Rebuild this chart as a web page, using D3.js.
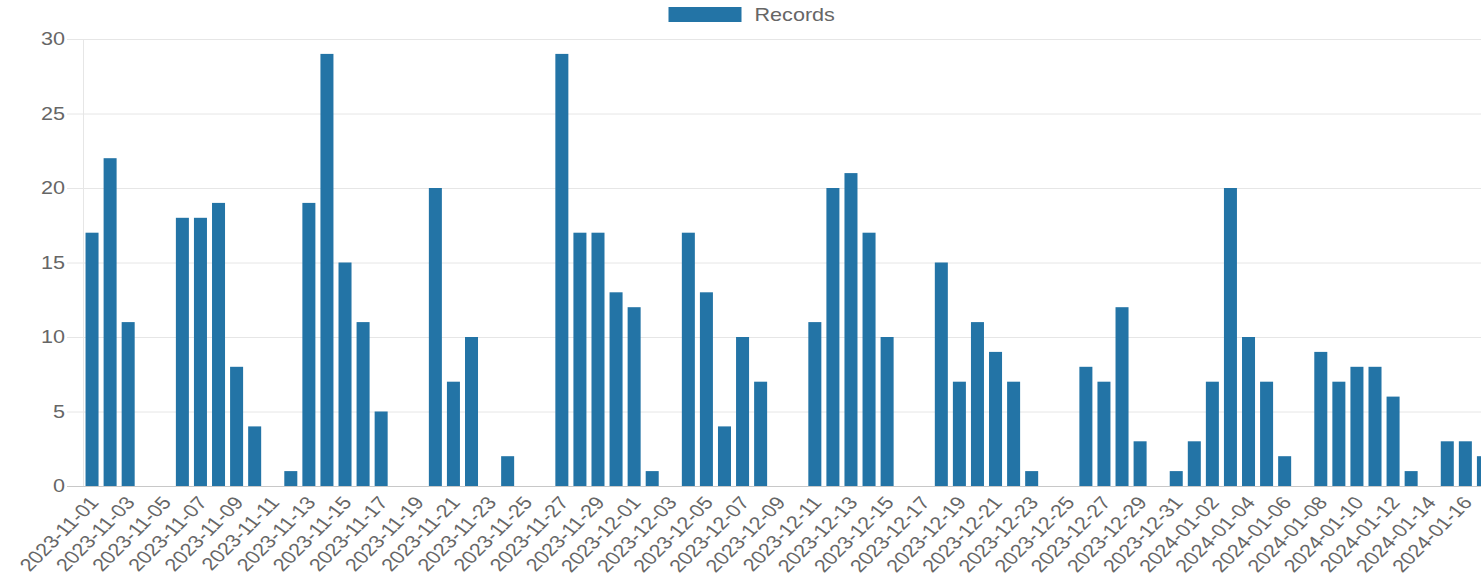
<!DOCTYPE html>
<html>
<head>
<meta charset="utf-8">
<script src="https://cdn.jsdelivr.net/npm/d3@7"></script>
<style>
  html, body { margin: 0; padding: 0; background: #fff; overflow: hidden; }
  text { font-family: "Liberation Sans", Arial, sans-serif; fill: #666; }
</style>
</head>
<body>
<div class="chart"></div>
<script>
// daily record counts, 2023-11-01 .. 2024-01-17
const dates = []
for (let d = new Date(Date.UTC(2023, 10, 1)); d <= new Date(Date.UTC(2024, 0, 17)); d.setUTCDate(d.getUTCDate() + 1)) {
  dates.push(d.toISOString().slice(0, 10))
}
const records = [
  17, 22, 11, 0, 0, 18, 18, 19, 8, 4,
  0, 1, 19, 29, 15, 11, 5, 0, 0, 20,
  7, 10, 0, 2, 0, 0, 29, 17, 17, 13,
  12, 1, 0, 17, 13, 4, 10, 7, 0, 0,
  11, 20, 21, 17, 10, 0, 0, 15, 7, 11,
  9, 7, 1, 0, 0, 8, 7, 12, 3, 0,
  1, 3, 7, 20, 10, 7, 2, 0, 9, 7,
  8, 8, 6, 1, 0, 3, 3, 2
]
const yTicks = [0, 5, 10, 15, 20, 25, 30]
const seriesName = 'Records'

const W = 1504, H = 575
const margin = {top: 39, left: 83, bottom: 89}
const step = 18.07
const sx = 1.2   // the source picture is stretched sideways a bit
const barColor = '#2374a6'

const svg = d3.select('.chart').append('svg')
  .attr('width', W)
  .attr('height', H)

const x = d3.scaleBand()
  .domain(dates)
  .range([margin.left, margin.left + step * dates.length])
  .paddingInner(0.28)
  .paddingOuter(0.14)

const y = d3.scaleLinear()
  .domain([0, 30])
  .range([H - margin.bottom, margin.top])

// horizontal grid
svg.append('g')
  .selectAll('line')
  .data(yTicks)
  .enter()
  .append('line')
    .attr('x1', margin.left - 16)
    .attr('x2', W)
    .attr('y1', d => y(d) + 0.5)
    .attr('y2', d => y(d) + 0.5)
    .style('stroke', d => d === 0 ? '#c8c8c8' : '#e6e6e6')
    .style('stroke-width', 1)

// y axis line
svg.append('line')
  .attr('x1', margin.left + 0.5)
  .attr('x2', margin.left + 0.5)
  .attr('y1', y(30))
  .attr('y2', y(0))
  .style('stroke', '#e6e6e6')

// y labels
svg.append('g')
  .selectAll('text')
  .data(yTicks)
  .enter()
  .append('text')
    .attr('transform', d => `translate(${margin.left - 18},${y(d)}) scale(${sx},1)`)
    .attr('dy', '0.35em')
    .attr('text-anchor', 'end')
    .style('font-size', '18px')
    .text(d => d)

// bars
svg.append('g')
  .selectAll('rect')
  .data(records)
  .enter()
  .append('rect')
    .attr('x', (d, i) => x(dates[i]))
    .attr('width', x.bandwidth())
    .attr('y', d => y(d))
    .attr('height', d => y(0) - y(d))
    .style('fill', barColor)

// x labels, every other day
svg.append('g')
  .selectAll('text')
  .data(dates.filter((d, i) => i % 2 === 0))
  .enter()
  .append('text')
    .attr('transform', d => `translate(${x(d) + x.bandwidth() / 2 + 2},${y(0) + 13}) scale(${sx},1) rotate(-50)`)
    .attr('dy', '0.35em')
    .attr('text-anchor', 'end')
    .style('font-size', '18px')
    .text(d => d)

// legend
const legend = svg.append('g')
const boxW = 73, gap = 13, labelW = 81
const lx = W / 2 - (boxW + gap + labelW) / 2
legend.append('rect')
  .attr('x', lx)
  .attr('y', 7)
  .attr('width', boxW)
  .attr('height', 15)
  .style('fill', barColor)
legend.append('text')
  .attr('transform', `translate(${lx + boxW + gap},21) scale(${sx},1)`)
  .style('font-size', '18px')
  .text(seriesName)
</script>
</body>
</html>
